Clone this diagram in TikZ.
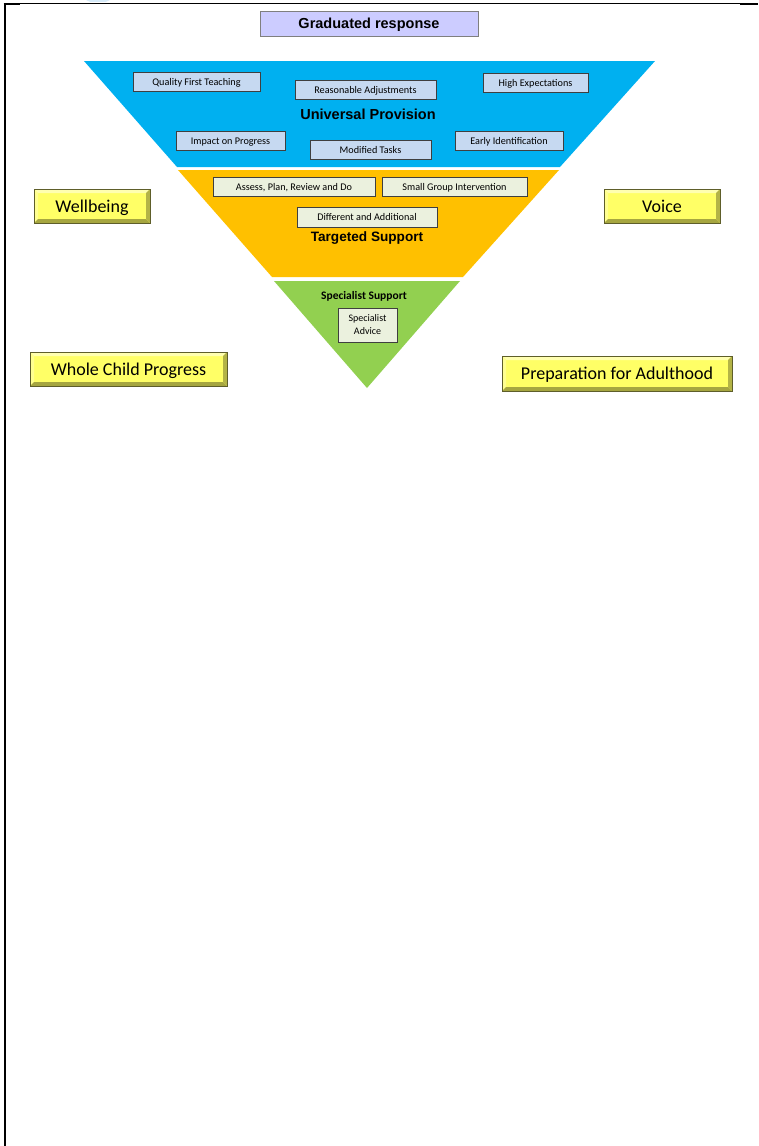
\documentclass[tikz,border=0pt]{standalone}
\usepackage{fontspec}
\setmainfont{Carlito}
\newfontfamily\arialf{Liberation Sans}
\definecolor{upblue}{HTML}{00B0F0}
\definecolor{tsorange}{HTML}{FFC000}
\definecolor{ssgreen}{HTML}{92D050}
\definecolor{bluebox}{HTML}{C6D9F1}
\definecolor{palebox}{HTML}{EBF1DE}
\definecolor{titlebox}{HTML}{CCCCFF}
\definecolor{edgegray}{HTML}{3F3F3F}
\definecolor{titleedge}{HTML}{7F7F7F}
\definecolor{yelfill}{HTML}{FFFF66}
\definecolor{yellight}{HTML}{FFFFB0}
\definecolor{yelmid}{HTML}{FFFF90}
\definecolor{yeldark}{HTML}{A6A640}
\definecolor{yeledge}{HTML}{5E5E2A}
\definecolor{logoblue}{HTML}{D6EAF8}
\tikzset{
  bx/.style 2 args={minimum width=#1, minimum height=#2, inner sep=0pt, outer sep=0pt, text depth=0pt},
  bluebx/.style={draw=edgegray, fill=bluebox, line width=0.9pt, font=\fontsize{10.2}{12}\selectfont, text height=7.2pt},
  palebx/.style={draw=edgegray, fill=palebox, line width=0.9pt, font=\fontsize{10.2}{12}\selectfont, text height=7.2pt},
  tier/.style={font=\arialf\bfseries\fontsize{14.5}{16}\selectfont, inner sep=0pt},
  yelbx/.style={draw=yeledge, fill=yelfill, line width=0.9pt, font=\fontsize{18}{20}\selectfont, text height=12.6pt,
    path picture={
      \coordinate (pnw) at (path picture bounding box.north west);
      \coordinate (pne) at (path picture bounding box.north east);
      \coordinate (psw) at (path picture bounding box.south west);
      \coordinate (pse) at (path picture bounding box.south east);
      \fill[yellight] (pnw) -- (pne) -- ([xshift=-4pt,yshift=-4pt]pne) -- ([xshift=4pt,yshift=-4pt]pnw) -- cycle;
      \fill[yelmid] (pnw) -- (psw) -- ([xshift=4pt,yshift=4pt]psw) -- ([xshift=4pt,yshift=-4pt]pnw) -- cycle;
      \fill[yeldark] (psw) -- (pse) -- ([xshift=-4pt,yshift=4pt]pse) -- ([xshift=4pt,yshift=4pt]psw) -- cycle;
      \fill[yeldark!85!yelfill] (pne) -- (pse) -- ([xshift=-4pt,yshift=4pt]pse) -- ([xshift=-4pt,yshift=-4pt]pne) -- cycle;
    }}
}
\begin{document}
\begin{tikzpicture}[x=1pt,y=-1pt]
\useasboundingbox (0,0) rectangle (758,1146);
% frame
\fill[logoblue] (86,0) -- (110,0) -- (106,1.8) -- (90,1.8) -- cycle;
\draw[line width=1.2pt] (5,3.3) -- (740,3.3);
\draw[line width=2pt] (3.5,3.8) -- (20,3.8);
\draw[line width=1.6pt] (740,4) -- (758,4);
\draw[line width=2pt] (5,3) -- (5,1146);
% title
\node[bx={218pt}{25pt}, draw=titleedge, fill=titlebox, line width=0.9pt, font=\arialf\bfseries\fontsize{14.5}{16}\selectfont, text height=10.4pt] (title) at (369,23.5) {Graduated response};
% pyramid
\fill[upblue] (84,61) -- (655,61) -- (560,167) -- (177,167) -- cycle;
\fill[tsorange] (178,170) -- (559,170) -- (463,277) -- (272,277) -- cycle;
\fill[ssgreen] (274,281) -- (460,281) -- (367,388) -- cycle;
% universal provision
\node[bx={127pt}{19pt}, bluebx] (qft) at (196.5,81.5) {Quality First Teaching};
\node[bx={141pt}{19pt}, bluebx] (ra) at (365.5,89.5) {Reasonable Adjustments};
\node[bx={105pt}{19pt}, bluebx] (he) at (535.5,82.5) {High Expectations};
\node[tier] (up) at (368,114) {Universal Provision};
\node[bx={109pt}{19pt}, bluebx] (iop) at (230.5,140.5) {Impact on Progress};
\node[bx={121pt}{19pt}, bluebx] (mt) at (370.5,149.5) {Modified Tasks};
\node[bx={108pt}{19pt}, bluebx] (ei) at (509,140.5) {Early Identification};
% targeted support
\node[bx={162pt}{19pt}, palebx] (aprd) at (294,186.5) {Assess, Plan, Review and Do};
\node[bx={145pt}{19pt}, palebx] (sgi) at (454.5,186.5) {Small Group Intervention};
\node[bx={140pt}{20pt}, palebx] (da) at (367,217) {Different and Additional};
\node[tier, font=\arialf\bfseries\fontsize{13.6}{16}\selectfont] (ts) at (367,238) {Targeted Support};
% specialist support
\node[inner sep=0pt, font=\bfseries\fontsize{11.5}{13}\selectfont] (ss) at (364,296) {Specialist Support};
\node[minimum width=59pt, minimum height=34pt, inner sep=0pt, palebx, text height=, align=center, font=\fontsize{10}{13}\selectfont] (sa) at (367.5,325) {Specialist\\Advice};
% side boxes
\node[bx={116pt}{34pt}, yelbx] (wb) at (92,206) {Wellbeing};
\node[bx={116pt}{34pt}, yelbx] (vo) at (662,206) {Voice};
\node[bx={197pt}{34pt}, yelbx] (wcp) at (128.5,369) {Whole Child Progress};
\node[bx={230pt}{35pt}, yelbx] (pfa) at (617,373.5) {Preparation for Adulthood};
\end{tikzpicture}
\end{document}
